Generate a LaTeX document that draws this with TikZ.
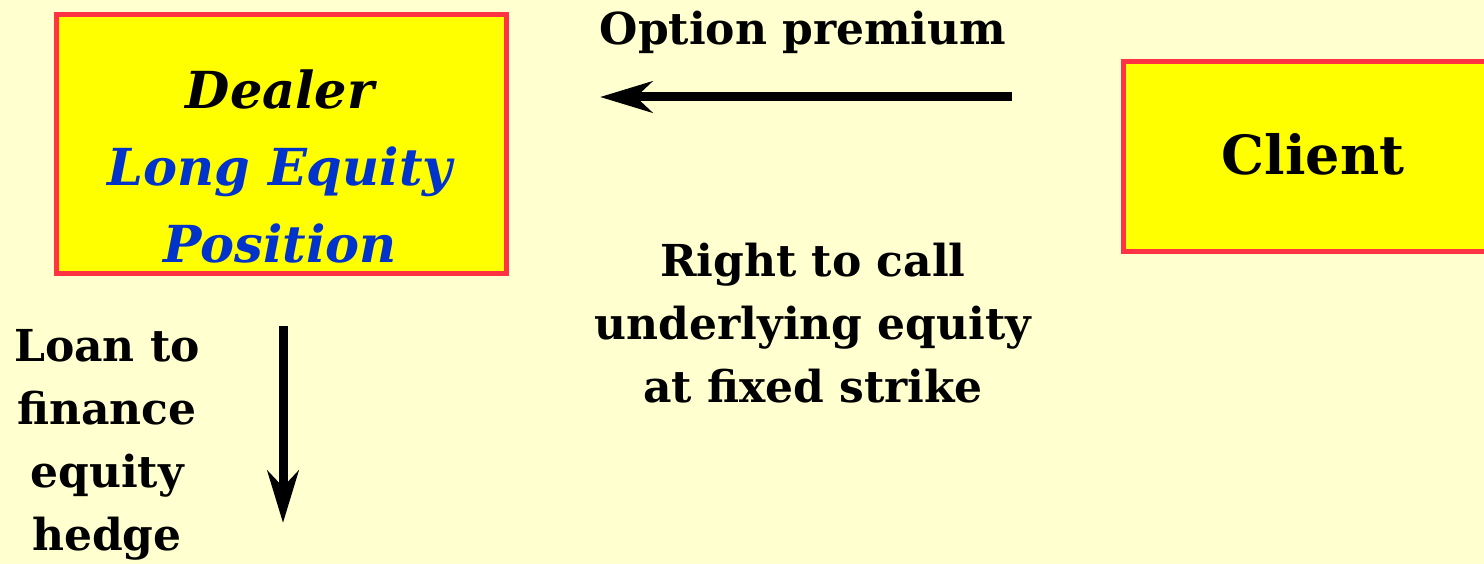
\documentclass[tikz,border=0pt]{standalone}
\usepackage{fontspec}
\setmainfont{DejaVu Serif}
\usetikzlibrary{arrows.meta}
\definecolor{paper}{RGB}{255,255,208}
\definecolor{boxred}{RGB}{255,51,68}
\definecolor{boxyellow}{RGB}{255,255,0}
\definecolor{textblue}{RGB}{0,51,204}
\begin{document}
\begin{tikzpicture}[x=1pt, y=-1pt,
        >={Stealth[length=52pt, width=31pt, inset=16pt]},
        partybox/.style={draw=boxred, line width=5pt, fill=boxyellow, inner sep=0pt},
        flowtext/.style={font=\fontsize{44}{63}\selectfont\bfseries, align=center, inner sep=0pt, anchor=base},
        flowarrow/.style={->, line width=9pt}]
        \fill[paper] (0,0) rectangle (1484,564);
        \useasboundingbox (0,0) rectangle (1484,564);

        % Dealer
        \node[partybox, minimum width=450pt, minimum height=259pt] (dealer) at (281.5,144) {};
        \node[inner sep=0pt, anchor=base, align=center, font=\fontsize{51}{77}\selectfont\bfseries\itshape] (dealername) at (280,262)
            {Dealer\\\textcolor{textblue}{Long Equity}\\\textcolor{textblue}{Position}};

        % Client
        \node[partybox, minimum width=379pt, minimum height=190pt] (client) at (1313,156.5) {};
        \node[inner sep=0pt, anchor=base, font=\fontsize{54}{70}\selectfont\bfseries] (clientname) at (1313,175) {Client};

        % Flows
        \coordinate (premiumstart) at (1012,97);
        \coordinate (premiumend) at (600,97);
        \draw[flowarrow] (premiumstart) -- (premiumend);
        \node[flowtext] (premium) at (803,45) {Option premium};
        \node[flowtext] (right) at (813,402) {Right to call\\underlying equity\\at fixed strike};

        \coordinate (loanstart) at (283,326);
        \coordinate (loanend) at (283,523);
        \draw[flowarrow] (loanstart) -- (loanend);
        \node[flowtext] (loan) at (107,550) {Loan to\\finance\\equity\\hedge};
    \end{tikzpicture}
\end{document}
